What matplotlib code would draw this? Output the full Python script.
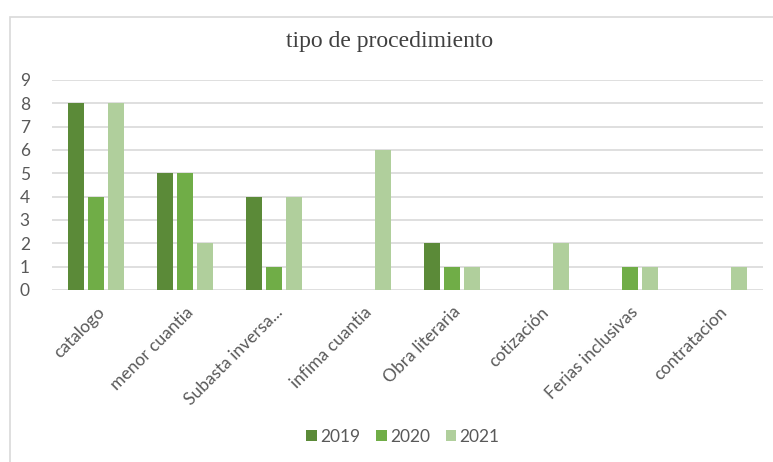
import numpy as np
import matplotlib
matplotlib.use("Agg")
import matplotlib.pyplot as plt
from matplotlib.patches import Rectangle

categories = ["catalogo", "menor cuantia", "Subasta inversa...", "infima cuantia",
              "Obra literaria", "cotización", "Ferias inclusivas", "contratacion"]
years = ["2019", "2020", "2021"]
v2019 = [8, 5, 4, 0, 2, 0, 0, 0]
v2020 = [4, 5, 1, 0, 1, 0, 1, 0]
v2021 = [8, 2, 4, 6, 1, 2, 1, 1]
colors = ["#5b8a38", "#70ad47", "#b0cf9c"]

fig = plt.figure(figsize=(7.73, 4.62), dpi=100)
# light chart-area border
fig.patches.append(Rectangle((10 / 773, -0.05), 1.05, (462 - 17) / 462 + 0.05,
                             transform=fig.transFigure, fill=False,
                             edgecolor="#d9d9d9", linewidth=1.2))

ax = fig.add_axes([52 / 773, (462 - 290) / 462, (763 - 52) / 773, 210 / 462])

x = np.arange(len(categories))
w = 0.18
step = 0.225
for i, (vals, lab) in enumerate(zip([v2019, v2020, v2021], years)):
    ax.bar(x + (i - 1) * step, vals, width=w, color=colors[i], label=lab, zorder=3)

ax.set_xlim(-0.5, len(categories) - 0.5)
ax.set_ylim(0, 9)
ax.set_yticks(range(0, 10))
ax.yaxis.grid(True, color="#d9d9d9", linewidth=1.2, zorder=0)
for s in ax.spines.values():
    s.set_visible(False)
ax.tick_params(axis="both", length=0)
ax.tick_params(axis="y", pad=16)
for t in ax.get_yticklabels():
    t.set_fontfamily("Lato")
    t.set_fontsize(12.5)
    t.set_color("#595959")

ax.set_xticks(x)
ax.set_xticklabels(categories, rotation=45, ha="right", va="top",
                   rotation_mode="anchor", fontsize=12.5, color="#595959",
                   fontfamily="Lato")
ax.tick_params(axis="x", pad=10)

fig.text(390 / 773, (462 - 42) / 462, "tipo de procedimiento", ha="center", va="center",
         fontsize=17, fontfamily="Liberation Serif", color="#404040")

leg = fig.legend(loc="center", bbox_to_anchor=(403 / 773, (462 - 437) / 462), ncol=3,
                 frameon=False, handlelength=0.6, handleheight=0.6, handletextpad=0.2,
                 columnspacing=0.9, prop={"family": "Lato", "size": 12.5})
for t in leg.get_texts():
    t.set_color("#595959")

fig.savefig("out.png", dpi=100)
